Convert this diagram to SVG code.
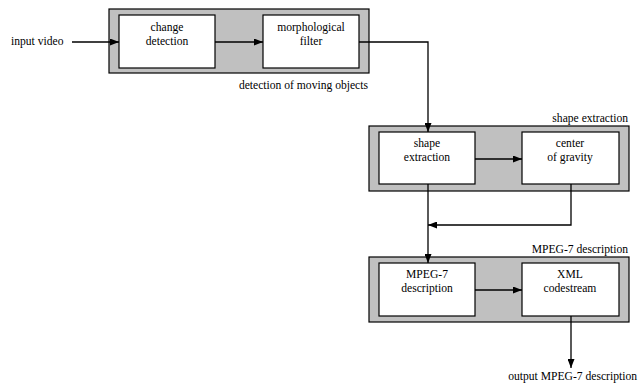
<svg xmlns="http://www.w3.org/2000/svg" width="638" height="383" viewBox="0 0 638 383">
<defs>
<marker id="ah" markerWidth="9" markerHeight="7" refX="9" refY="3.5" orient="auto" markerUnits="userSpaceOnUse">
<path d="M0,0 L9,3.5 L0,7 Z" fill="#000"/>
</marker>
<style>
.grp{fill:#c0c0c0;stroke:#000;stroke-width:1.2}
.box{fill:#fff;stroke:#000;stroke-width:1.2}
.c{text-anchor:middle}
.r{text-anchor:end}
.ln{fill:none;stroke:#000;stroke-width:1.3}
</style>
</defs>
<rect width="638" height="383" fill="#fff"/>
<g font-family="Liberation Serif, DejaVu Serif, serif" font-size="11.6" fill="#000">
<g id="group-detection">
<rect class="grp" x="109" y="9" width="260" height="64"/>
<text class="r" x="368" y="89">detection of moving objects</text>
</g>
<g id="group-shape">
<rect class="grp" x="369" y="126" width="260" height="65"/>
<text class="r" x="628" y="122">shape extraction</text>
</g>
<g id="group-mpeg">
<rect class="grp" x="369" y="257" width="260" height="65"/>
<text class="r" x="628" y="253">MPEG-7 description</text>
</g>
<g id="change-detection">
<rect class="box" x="119" y="15" width="96" height="53"/>
<text class="c" x="167" y="31">change</text>
<text class="c" x="167" y="45">detection</text>
</g>
<g id="morphological-filter">
<rect class="box" x="263" y="15" width="96" height="53"/>
<text class="c" x="311" y="31">morphological</text>
<text class="c" x="311" y="45">filter</text>
</g>
<g id="shape-extraction">
<rect class="box" x="379" y="132" width="96" height="52"/>
<text class="c" x="427" y="147">shape</text>
<text class="c" x="427" y="161">extraction</text>
</g>
<g id="center-of-gravity">
<rect class="box" x="522" y="132" width="97" height="52"/>
<text class="c" x="570" y="147">center</text>
<text class="c" x="570" y="161">of gravity</text>
</g>
<g id="mpeg7-description">
<rect class="box" x="379" y="263" width="96" height="53"/>
<text class="c" x="427" y="278">MPEG-7</text>
<text class="c" x="427" y="292">description</text>
</g>
<g id="xml-codestream">
<rect class="box" x="522" y="263" width="97" height="53"/>
<text class="c" x="570" y="278">XML</text>
<text class="c" x="570" y="292">codestream</text>
</g>
<g id="input-label"><text x="11" y="45">input video</text></g>
<g id="output-label"><text class="r" x="637" y="380">output MPEG-7 description</text></g>
</g>
<g id="connectors">
<line class="ln" x1="72" y1="42" x2="119" y2="42" marker-end="url(#ah)"/>
<line class="ln" x1="215" y1="42" x2="263" y2="42" marker-end="url(#ah)"/>
<polyline class="ln" points="359,42 428,42 428,132" marker-end="url(#ah)"/>
<line class="ln" x1="475" y1="159" x2="522" y2="159" marker-end="url(#ah)"/>
<polyline class="ln" points="571,184 571,225 428,225" marker-end="url(#ah)" stroke-width="1"/>
<line class="ln" x1="428" y1="184" x2="428" y2="263" marker-end="url(#ah)"/>
<line class="ln" x1="475" y1="290" x2="522" y2="290" marker-end="url(#ah)"/>
<line class="ln" x1="571" y1="316" x2="571" y2="368" marker-end="url(#ah)"/>
</g>
</svg>
